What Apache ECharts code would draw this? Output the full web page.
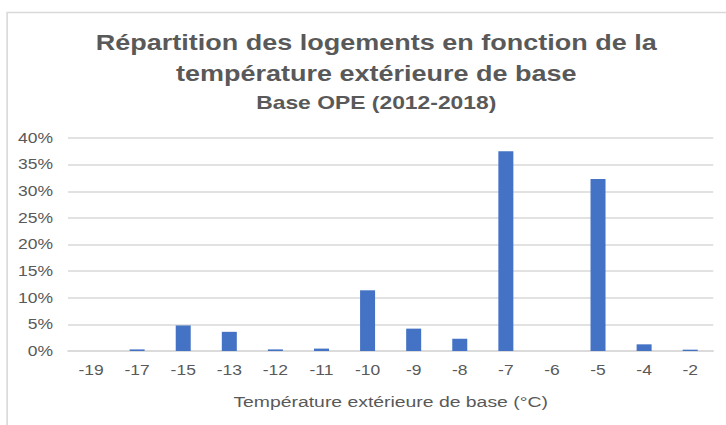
<!DOCTYPE html>
<html>
<head>
<meta charset="utf-8">
<script src="https://cdn.jsdelivr.net/npm/echarts@6/dist/echarts.min.js"></script>
<style>
html,body{margin:0;padding:0;background:#fff;overflow:hidden;width:726px;height:425px;}
#chart{width:580.8px;height:425px;transform:scaleX(1.25);transform-origin:0 0;}
</style>
</head>
<body>
<div id="chart"></div>
<script>
const categories = ['-19','-17','-15','-13','-12','-11','-10','-9','-8','-7','-6','-5','-4','-2'];
const values = [0, 0.003, 0.048, 0.036, 0.003, 0.0045, 0.114, 0.042, 0.023, 0.375, 0, 0.323, 0.0125, 0.0025];
const yTicks = {min: 0, max: 0.4, interval: 0.05};
const titleLines = 'Répartition des logements en fonction de la\ntempérature extérieure de base';
const subtitle = 'Base OPE (2012-2018)';
const xName = 'Température extérieure de base (°C)';

const chart = echarts.init(document.getElementById('chart'), null, {renderer: 'svg'});
const font = '"Liberation Sans", Arial, sans-serif';
chart.setOption({
  animation: false,
  graphic: [{
    type: 'rect', left: 3.2, top: 10,
    shape: {width: 640, height: 440},
    style: {fill: 'none', stroke: '#d9d9d9', lineWidth: 1.3},
    silent: true, z: -1
  }],
  title: [{
    text: titleLines,
    left: 296, top: 22, textAlign: 'center',
    textStyle: {fontFamily: font, fontSize: 21.6, fontWeight: 'bold', color: '#595959', lineHeight: 31}
  }, {
    text: subtitle,
    left: 296, top: 88, textAlign: 'center',
    textStyle: {fontFamily: font, fontSize: 18.3, fontWeight: 'bold', color: '#595959'}
  }],
  grid: {left: 54.4, right: 10.4, top: 138, bottom: 74},
  xAxis: {
    type: 'category', data: categories,
    axisLine: {lineStyle: {color: '#d9d9d9', width: 1.5}},
    axisTick: {show: false},
    axisLabel: {color: '#595959', fontFamily: font, fontSize: 14, margin: 12},
    name: xName, nameLocation: 'middle', nameGap: 43,
    nameTextStyle: {color: '#595959', fontFamily: font, fontSize: 15.5}
  },
  yAxis: {
    type: 'value', min: yTicks.min, max: yTicks.max, interval: yTicks.interval,
    axisLine: {show: false}, axisTick: {show: false},
    splitLine: {lineStyle: {color: '#d9d9d9', width: 1.5}},
    axisLabel: {color: '#595959', fontFamily: font, fontSize: 14, margin: 12,
      formatter: v => Math.round(v * 100) + '%'}
  },
  series: [{
    type: 'bar', data: values, barWidth: 12,
    itemStyle: {color: '#4472C4'}
  }]
});
</script>
</body>
</html>
